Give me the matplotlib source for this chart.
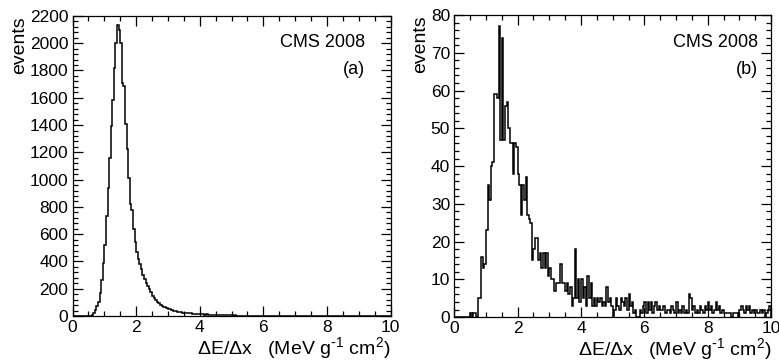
import numpy as np
import matplotlib
matplotlib.use('Agg')
import matplotlib.pyplot as plt
from matplotlib.ticker import MultipleLocator

plt.rcParams['font.family'] = ['Liberation Sans', 'DejaVu Sans']
plt.rcParams['mathtext.default'] = 'regular'

# бины по 0.05 от 0 до 10
edges = np.linspace(0, 10, 201)

# (a) все треки
counts_a = [0] * 11 + [
    3, 8, 20, 45, 70, 105, 170, 265, 390,
    520, 730, 940, 1160, 1390, 1585, 1815, 2000, 2135, 2095,
    2005, 1710, 1685, 1405, 1225, 1010, 820, 780, 640, 540,
    470, 420, 380, 345, 300, 275, 245, 220, 195, 175,
    150, 135, 118, 105, 92, 80, 76, 68, 64, 56,
    52, 48, 42, 40, 36, 34, 31, 30, 27, 25,
    24, 22, 23, 20, 19, 18, 17, 18, 15, 14,
    15, 13, 12, 11, 12, 10, 9, 10, 8, 9,
    7, 8, 6, 7, 6, 5, 6, 5, 4, 5,
    4, 3, 4, 3, 3, 2, 3, 2, 2, 1,
    2, 1, 1, 1, 2, 1, 0, 1, 1, 0,
    1, 0, 0, 1, 0, 0, 0, 1, 0, 0,
    0, 0, 1, 0, 0, 0, 0, 0, 0, 0,
] + [0] * 60

# (b) отобранные треки
counts_b = [0] * 10 + [
    1, 0, 1, 1, 0, 5, 5, 16, 13, 14,
    23, 35, 31, 40, 41, 59, 59, 58, 77, 47,
    74, 47, 56, 57, 50, 46, 46, 38, 46, 45,
    38, 35, 27, 35, 31, 37, 27, 26, 25, 15,
    18, 21, 21, 15, 17, 13, 17, 13, 17, 11,
    13, 10, 10, 7, 9, 9, 9, 14, 9, 9,
    7, 9, 6, 8, 3, 5, 18, 5, 10, 4,
    10, 5, 8, 3, 11, 5, 9, 3, 5, 3,
    5, 4, 5, 3, 4, 3, 8, 4, 5, 3,
    0, 2, 5, 3, 2, 5, 4, 3, 5, 2,
    6, 3, 4, 1, 2, 0, 0, 2, 1, 3,
    4, 1, 4, 2, 4, 1, 3, 4, 2, 3,
    2, 2, 3, 1, 2, 2, 1, 3, 2, 1,
    4, 1, 2, 1, 3, 1, 2, 1, 6, 5,
    2, 3, 1, 2, 1, 3, 2, 1, 3, 2,
    4, 2, 3, 1, 2, 4, 2, 3, 1, 2,
    1, 1, 1, 1, 1, 0, 1, 1, 1, 0,
    2, 3, 2, 1, 3, 2, 3, 1, 2, 1,
    2, 1, 1, 2, 1, 2, 0, 1, 2, 3,
]

FS = 12.5

fig = plt.figure(figsize=(7.79, 3.62), dpi=100)
ax1 = fig.add_axes([0.0931, 0.127, 0.4082, 0.829])
ax2 = fig.add_axes([0.5832, 0.124, 0.4066, 0.8345])

panels = [
    (ax1, counts_a, 2200, 200, 40, '(a)', 0.92),
    (ax2, counts_b, 80, 10, 2, '(b)', 0.96),
]
for ax, cnt, ymax, ymaj, ymin, tag, xt in panels:
    ax.stairs(cnt, edges, color='black', lw=1.1)
    ax.set_xlim(0, 10)
    ax.set_ylim(0, ymax)
    ax.xaxis.set_major_locator(MultipleLocator(2))
    ax.xaxis.set_minor_locator(MultipleLocator(0.5))
    ax.yaxis.set_major_locator(MultipleLocator(ymaj))
    ax.yaxis.set_minor_locator(MultipleLocator(ymin))
    ax.tick_params(which='both', direction='in', top=True, right=True,
                   labelsize=FS, width=0.9, pad=3)
    ax.tick_params(which='major', length=7)
    ax.tick_params(which='minor', length=3.5)
    for s in ax.spines.values():
        s.set_linewidth(0.9)
    ax.set_ylabel('events', fontsize=14, loc='top', labelpad=1)
    ax.set_xlabel(r'$\Delta$E/$\Delta$x   (MeV g$^{\text{-}1}$ cm$^{2}$)',
                  fontsize=14, loc='right', labelpad=0)
    ax.text(xt, 0.91, 'CMS 2008', transform=ax.transAxes,
            ha='right', va='center', fontsize=13)
    ax.text(xt, 0.82, tag, transform=ax.transAxes,
            ha='right', va='center', fontsize=13)

fig.savefig('out.png', dpi=100)
